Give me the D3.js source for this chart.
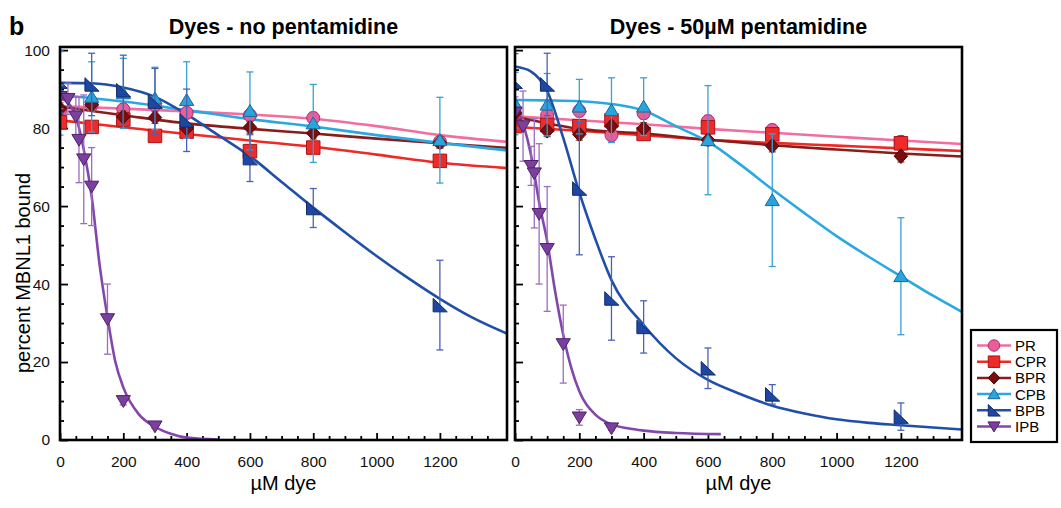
<!DOCTYPE html>
<html>
<head>
<meta charset="utf-8">
<script src="https://cdn.jsdelivr.net/npm/d3@7"></script>
<style>
  body { margin: 0; background: #fff; }
  svg { display: block; font-family: Arial, "Liberation Sans", sans-serif; }
</style>
</head>
<body>
<div id="app"></div>
<script>
// --- data ---
const dyes = ["PR", "CPR", "BPR", "CPB", "BPB", "IPB"];
const dose = [0, 100, 200, 300, 400, 600, 800, 1200];
const doseIPB = [0, 25, 50, 60, 75, 100, 150, 200, 300];

// panel 1: no pentamidine
const prNo = [84.4, 85.9, 84.8, 86.0, 83.9, 83.3, 82.6, 76.5];
const cprNo = [81.5, 80.3, 82.2, 78.0, 79.1, 74.1, 75.0, 71.6];
const bprNo = [85.0, 86.0, 82.9, 82.7, 79.9, 80.2, 78.7, 76.3];
const cpbNo = [88.9, 88.0, 88.9, 87.6, 87.2, 84.4, 81.2, 76.9];
const bpbNo = [91.9, 91.2, 89.7, 86.8, 82.0, 72.3, 59.5, 34.6];
const ipbNo = [88.0, 87.5, 83.0, 77.0, 72.0, 65.0, 31.0, 10.0, 3.5];
const prNoErr = [1.5, 1.5, 1.5, 1.5, 1.5, 1.5, 1.5, 1.5];
const cprNoErr = [1.5, 1.5, 1.5, 1.5, 1.5, 1.5, 1.5, 1.5];
const bprNoErr = [1.5, 1.5, 1.5, 1.5, 1.5, 1.5, 1.5, 1.5];
const cpbNoErr = [10.7, 9, 9, 8, 9.8, 10, 10, 11];
const bpbNoErr = [8, 8, 9, 8.5, 8, 6, 5, 11.5];
const ipbNoErr = [3, 4, 5, 11, 16.5, 10, 9, 1, 0.5];

// panel 2: 50 uM pentamidine
const prPe = [83.8, 83.3, 84.4, 78.2, 83.8, 81.8, 79.5, 76.5];
const cprPe = [80.5, 80.8, 80.5, 82.0, 78.5, 80.2, 78.4, 76.1];
const bprPe = [83.8, 79.3, 78.4, 80.5, 79.9, 77.0, 75.4, 72.8];
const cpbPe = [86.3, 86.0, 85.5, 84.6, 85.5, 76.9, 61.5, 42.0];
const bpbPe = [91.9, 91.2, 64.5, 36.3, 29.0, 18.4, 11.7, 6.0];
const ipbPe = [84.0, 80.5, 70.3, 68.4, 58.0, 49.0, 24.6, 5.8, 3.0];
const prPeErr = [1.5, 1.5, 1.5, 1.5, 1.5, 1.5, 1.5, 1.5];
const cprPeErr = [1.5, 1.5, 1.5, 1.5, 1.5, 1.5, 1.5, 1.5];
const bprPeErr = [1.5, 1.5, 1.5, 1.5, 1.5, 1.5, 1.5, 1.5];
const cpbPeErr = [8, 8, 7, 8.3, 7.4, 14, 17, 15];
const bpbPeErr = [7.2, 8, 17, 10.7, 6.7, 5.2, 2.5, 3.5];
const ipbPeErr = [4, 9, 5, 14, 18, 16, 10, 2, 0.5];

// fitted curves, sampled from the figure
const fitX = [0, 200, 400, 600, 800, 1000, 1200, 1420];
const fitXFine = [0, 100, 200, 300, 400, 500, 600, 700, 800, 900, 1000, 1100, 1200, 1300, 1420];
const bpbFitXPe = [0, 50, 100, 150, 200, 250, 300, 400, 500, 600, 700, 800, 900, 1000, 1100, 1200, 1420];
const ipbFitX = [0, 25, 50, 75, 100, 125, 150, 175, 200, 250, 300, 350, 400, 500, 640];

const prFitNo = [85.6, 85.0, 84.3, 83.5, 82.4, 80.5, 78.2, 76.4];
const cprFitNo = [82.0, 80.2, 78.5, 76.8, 75.2, 73.2, 71.1, 69.7];
const bprFitNo = [85.5, 83.3, 81.2, 79.8, 78.6, 77.3, 76.1, 74.9];
const cpbFitNo = [88.5, 86.8, 84.6, 82.3, 80.4, 78.2, 76.2, 74.2];
const bpbFitNo = [91.6, 91.5, 90.4, 88.0, 83.5, 78.2, 72.8, 66.2, 59.6, 53.3, 47.2, 41.5, 36.2, 31.5, 27.0];
const ipbFitNo = [87.6, 86.5, 83.0, 74.5, 62.5, 45.0, 31.5, 20.0, 13.5, 6.5, 3.4, 1.6, 0.6, 0.1, 0];

const prFitPe = [83.0, 82.0, 81.0, 79.8, 78.8, 77.8, 76.8, 75.8];
const cprFitPe = [80.3, 79.3, 78.2, 77.0, 76.2, 75.5, 74.8, 74.0];
const bprFitPe = [83.0, 79.8, 78.6, 77.0, 75.6, 74.5, 73.5, 72.6];
const cpbFitPe = [87.2, 87.1, 86.9, 86.2, 84.5, 80.5, 76.5, 70.7, 64.3, 58.2, 52.3, 47.0, 42.0, 37.0, 31.5];
const bpbFitPe = [95.8, 94.5, 89.5, 77.5, 63.5, 51.5, 41.0, 29.5, 21.0, 15.4, 11.8, 8.8, 6.8, 5.3, 4.4, 3.8, 2.5];
const ipbFitPe = [85.0, 81.0, 73.0, 61.0, 51.0, 38.0, 27.0, 18.5, 12.5, 6.5, 4.0, 3.0, 2.4, 1.8, 1.5];

const xTicks = [0, 200, 400, 600, 800, 1000, 1200];
const yTicks = [0, 20, 40, 60, 80, 100];

// --- styles per dye ---
const style = {
  PR:  { line: "#f06ea0", fill: "#ea5d9a", edge: "#b2286a", err: "#e98ab2", shape: "circle" },
  CPR: { line: "#ee2a26", fill: "#ee2a2a", edge: "#a81616", err: "#ee6a6a", shape: "square" },
  BPR: { line: "#8a1c1c", fill: "#7a0e0e", edge: "#4e0404", err: "#9a4a4a", shape: "diamond" },
  CPB: { line: "#2aa8e2", fill: "#2aa4dc", edge: "#17699a", err: "#3a9fd4", shape: "triUp" },
  BPB: { line: "#1f4fa8", fill: "#1f47a2", edge: "#102c6a", err: "#4a62b4", shape: "flag" },
  IPB: { line: "#8346aa", fill: "#7b3f9e", edge: "#4e2268", err: "#9c6cc0", shape: "triDown" }
};

function shapePath(kind, s) {
  const h = s / 2;
  const p = d3.path();
  if (kind === "circle") {
    p.arc(0, 0, h, 0, 2 * Math.PI);
  } else if (kind === "square") {
    p.rect(-h, -h, s, s);
  } else if (kind === "diamond") {
    p.moveTo(0, -h * 1.08); p.lineTo(h, 0); p.lineTo(0, h * 1.08); p.lineTo(-h, 0); p.closePath();
  } else if (kind === "triUp") {
    p.moveTo(0, -h * 0.95); p.lineTo(h * 1.05, h * 0.8); p.lineTo(-h * 1.05, h * 0.8); p.closePath();
  } else if (kind === "triDown") {
    p.moveTo(-h * 1.05, -h * 0.8); p.lineTo(h * 1.05, -h * 0.8); p.lineTo(0, h * 0.95); p.closePath();
  } else if (kind === "flag") {
    p.moveTo(-h, -h); p.lineTo(-h, h); p.lineTo(h * 1.1, h); p.closePath();
  }
  return p.toString();
}

const panels = [
  {
    title: "Dyes - no pentamidine",
    x: d3.scaleLinear().domain([0, 1412]).range([60, 507]),
    yLabels: true,
    pts: { PR: [dose, prNo, prNoErr], CPR: [dose, cprNo, cprNoErr], BPR: [dose, bprNo, bprNoErr],
           CPB: [dose, cpbNo, cpbNoErr], BPB: [dose, bpbNo, bpbNoErr], IPB: [doseIPB, ipbNo, ipbNoErr] },
    fits: { PR: [fitX, prFitNo], CPR: [fitX, cprFitNo], BPR: [fitX, bprFitNo],
            CPB: [fitX, cpbFitNo], BPB: [fitXFine, bpbFitNo], IPB: [ipbFitX.slice(0, 14), ipbFitNo.slice(0, 14)] }
  },
  {
    title: "Dyes - 50µM pentamidine",
    x: d3.scaleLinear().domain([0, 1390]).range([515, 962]),
    yLabels: false,
    pts: { PR: [dose, prPe, prPeErr], CPR: [dose, cprPe, cprPeErr], BPR: [dose, bprPe, bprPeErr],
           CPB: [dose, cpbPe, cpbPeErr], BPB: [dose, bpbPe, bpbPeErr], IPB: [doseIPB, ipbPe, ipbPeErr] },
    fits: { PR: [fitX, prFitPe], CPR: [fitX, cprFitPe], BPR: [fitX, bprFitPe],
            CPB: [fitXFine, cpbFitPe], BPB: [bpbFitXPe, bpbFitPe], IPB: [ipbFitX, ipbFitPe] }
  }
];

const width = 1061, height = 508;
const y = d3.scaleLinear().domain([0, 100.8]).range([440, 47]);

const svg = d3.select("#app").append("svg")
  .attr("width", width).attr("height", height)
  .attr("viewBox", [0, 0, width, height]);

svg.append("text")
  .attr("x", 9).attr("y", 35)
  .attr("font-size", 25).attr("font-weight", "bold")
  .text("b");

svg.append("text")
  .attr("transform", "translate(30,273) rotate(-90)")
  .attr("text-anchor", "middle")
  .attr("font-size", 20)
  .text("percent MBNL1 bound");

panels.forEach((pn, pi) => {
  const x = pn.x;
  const [x0, x1] = x.range();
  const g = svg.append("g");

  g.append("clipPath").attr("id", "clip" + pi)
    .append("rect").attr("x", x0).attr("y", 47).attr("width", x1 - x0).attr("height", 393);

  // axes (ticks point inward)
  const minorX = d3.range(0, x.domain()[1], 50).filter(v => v % 200 !== 0);
  g.append("g").attr("transform", "translate(0,440)")
    .call(d3.axisBottom(x).tickValues(minorX).tickSize(-4).tickFormat(""))
    .call(a => a.select(".domain").remove());
  g.append("g").attr("transform", "translate(0,440)")
    .call(d3.axisBottom(x).tickValues(xTicks).tickSize(-7).tickPadding(16).tickFormat(d3.format("d")))
    .call(a => a.select(".domain").remove())
    .call(a => a.selectAll("text").attr("font-size", 15.5).attr("font-family", null).attr("fill", "#111"));

  const minorY = d3.range(5, 100, 5).filter(v => v % 20 !== 0);
  g.append("g").attr("transform", `translate(${x0},0)`)
    .call(d3.axisLeft(y).tickValues(minorY).tickSize(-4).tickFormat(""))
    .call(a => a.select(".domain").remove());
  g.append("g").attr("transform", `translate(${x0},0)`)
    .call(d3.axisLeft(y).tickValues(yTicks).tickSize(-8).tickPadding(10)
      .tickFormat(pn.yLabels ? d3.format("d") : ""))
    .call(a => a.select(".domain").remove())
    .call(a => a.selectAll("text").attr("font-size", 15.5).attr("font-family", null).attr("fill", "#111"));
  g.selectAll(".tick line").attr("stroke", "#000").attr("stroke-width", 1.8);

  // fitted curves
  const line = d3.line().x(d => x(d[0])).y(d => y(d[1])).curve(d3.curveMonotoneX);
  const curves = g.append("g").attr("clip-path", `url(#clip${pi})`);
  dyes.forEach(k => {
    const [fx, fy] = pn.fits[k];
    curves.append("path")
      .attr("d", line(fx.map((v, i) => [v, fy[i]])))
      .attr("fill", "none")
      .attr("stroke", style[k].line)
      .attr("stroke-width", 2.6);
  });

  // error bars and markers
  const marks = g.append("g").attr("clip-path", `url(#clip${pi})`);
  dyes.forEach(k => {
    const [px, py, pe] = pn.pts[k];
    const st = style[k];
    const pts = px.map((v, i) => ({ x: v, y: py[i], e: pe[i] }));
    const eb = marks.append("g").attr("stroke", st.err).attr("stroke-width", 1.3).attr("fill", "none");
    pts.forEach(d => {
      const cx = x(d.x), yt = y(d.y + d.e), yb = y(d.y - d.e);
      eb.append("line").attr("x1", cx).attr("x2", cx).attr("y1", yt).attr("y2", yb);
      eb.append("line").attr("x1", cx - 3.5).attr("x2", cx + 3.5).attr("y1", yt).attr("y2", yt);
      eb.append("line").attr("x1", cx - 3.5).attr("x2", cx + 3.5).attr("y1", yb).attr("y2", yb);
    });
    marks.append("g").selectAll("path").data(pts).join("path")
      .attr("transform", d => `translate(${x(d.x)},${y(d.y)})`)
      .attr("d", shapePath(st.shape, st.shape === "circle" ? 13 : 13.5))
      .attr("fill", st.fill)
      .attr("stroke", st.edge)
      .attr("stroke-width", 1);
  });

  // frame
  g.append("rect")
    .attr("x", x0).attr("y", 47).attr("width", x1 - x0).attr("height", 393)
    .attr("fill", "none").attr("stroke", "#000").attr("stroke-width", 2.6);

  g.append("text")
    .attr("x", (x0 + x1) / 2).attr("y", 34)
    .attr("text-anchor", "middle")
    .attr("font-size", 21.5).attr("font-weight", "bold")
    .text(pn.title);

  g.append("text")
    .attr("x", (x0 + x1) / 2).attr("y", 490)
    .attr("text-anchor", "middle")
    .attr("font-size", 20)
    .text("µM dye");
});

// legend
const leg = svg.append("g");
leg.append("rect")
  .attr("x", 971).attr("y", 330).attr("width", 86).attr("height", 112)
  .attr("fill", "#fff").attr("stroke", "#000").attr("stroke-width", 2.2);
dyes.forEach((k, i) => {
  const ly = 345.5 + i * 16.2;
  const st = style[k];
  leg.append("line").attr("x1", 977).attr("x2", 1011).attr("y1", ly).attr("y2", ly)
    .attr("stroke", st.line).attr("stroke-width", 2.5);
  leg.append("path").attr("transform", `translate(994,${ly})`)
    .attr("d", shapePath(st.shape, 11.5))
    .attr("fill", st.fill).attr("stroke", st.edge).attr("stroke-width", 1);
  leg.append("text").attr("x", 1015).attr("y", ly).attr("dy", "0.36em")
    .attr("font-size", 15).text(k);
});
</script>
</body>
</html>
